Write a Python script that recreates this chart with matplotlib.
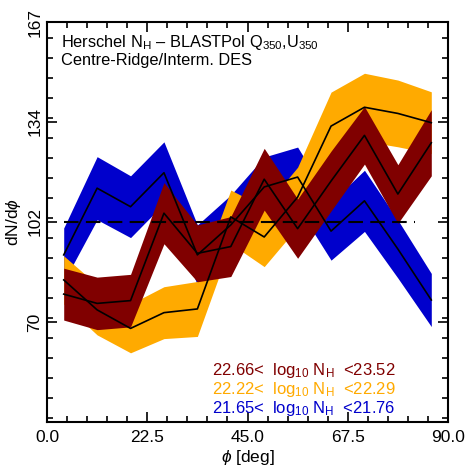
import matplotlib
matplotlib.use("Agg")
import matplotlib.pyplot as plt
import numpy as np
from matplotlib.ticker import FixedLocator, MultipleLocator

plt.rcParams['font.family'] = ['Liberation Sans', 'DejaVu Sans']
plt.rcParams['mathtext.fontset'] = 'custom'
plt.rcParams['mathtext.rm'] = 'Liberation Sans'
plt.rcParams['mathtext.it'] = 'Liberation Sans:italic'
plt.rcParams['mathtext.bf'] = 'Liberation Sans:bold'

# ---- data ----
phi = [3.75, 11.25, 18.75, 26.25, 33.75, 41.25, 48.75, 56.25, 63.75, 71.25, 78.75, 86.25]

blue_mid = [91.6, 113.2, 107.2, 118.2, 91.6, 101.3, 113.6, 116.8, 99.3, 109.1, 93.5, 77.0]
blue_err = [8.7, 10.2, 10.0, 10.0, 9.7, 9.7, 9.7, 9.7, 9.4, 9.9, 9.4, 8.6]

orange_mid = [83.5, 73.8, 67.8, 72.9, 74.1, 103.9, 97.4, 110.3, 133.3, 139.4, 137.4, 134.4]
orange_err = [7.8, 8.1, 7.9, 8.4, 8.9, 8.7, 9.6, 9.7, 11.0, 11.0, 10.8, 10.0]

maroon_mid = [78.9, 75.9, 76.8, 105.1, 92.1, 94.3, 116.1, 100.1, 115.5, 130.3, 111.3, 127.9]
maroon_err = [8.4, 8.5, 8.5, 9.9, 9.2, 9.7, 10.0, 9.6, 9.7, 9.3, 9.5, 10.7]

mean_level = 102.25
mean_x = [3.75, 82.5]

ytick_vals = [69.875, 102.25, 134.625, 167.0]
ytick_labels = ['70', '102', '134', '167']
xtick_vals = [0.0, 22.5, 45.0, 67.5, 90.0]
xtick_labels = ['0.0', '22.5', '45.0', '67.5', '90.0']

legend_texts = [r'22.66<  log$_{10}$ N$_{\mathregular{H}}$  <23.52',
                r'22.22<  log$_{10}$ N$_{\mathregular{H}}$  <22.29',
                r'21.65<  log$_{10}$ N$_{\mathregular{H}}$  <21.76']

c_maroon = '#800000'
c_orange = '#FFAA00'
c_blue = '#0000CC'

fig = plt.figure(figsize=(4.71, 4.71), dpi=100)
ax = fig.add_axes([47/471, 49/471, 401/471, 400/471])

x = np.array(phi)
for mid, err, col in [(blue_mid, blue_err, c_blue),
                      (orange_mid, orange_err, c_orange),
                      (maroon_mid, maroon_err, c_maroon)]:
    m = np.array(mid); e = np.array(err)
    ax.fill_between(x, m - e, m + e, color=col, lw=0)
    ax.plot(x, m, color='black', lw=1.2)

ax.plot(mean_x, [mean_level, mean_level], color='black', lw=1.5,
        dashes=(7, 3.5))

ax.set_xlim(0, 90)
ax.set_ylim(37.5, 167)

ax.xaxis.set_major_locator(FixedLocator(xtick_vals))
ax.set_xticklabels(xtick_labels)
ax.xaxis.set_minor_locator(MultipleLocator(4.5))
ax.yaxis.set_major_locator(FixedLocator([37.5] + ytick_vals))
ax.set_yticklabels([''] + ytick_labels)
ax.yaxis.set_minor_locator(MultipleLocator(32.375 / 5))

ax.tick_params(which='both', direction='in', top=True, right=True, width=1.2)
ax.tick_params(which='major', length=7, labelsize=12.5)
ax.tick_params(which='minor', length=4)
ax.tick_params(axis='x', pad=6)
for lab in ax.get_yticklabels():
    lab.set_rotation(90)
    lab.set_va('center')
for s in ax.spines.values():
    s.set_linewidth(1.5)

ax.set_xlabel(r'$\phi$ [deg]', fontsize=12.5, labelpad=2)
ax.set_ylabel(r'dN/d$\phi$', fontsize=12.5, labelpad=3)

ax.text(0.035, 0.95, r'Herschel N$_{\mathregular{H}}$ – BLASTPol Q$_{\mathregular{350}}$,U$_{\mathregular{350}}$',
        transform=ax.transAxes, fontsize=11.8, va='center', ha='left')
ax.text(0.035, 0.903, 'Centre-Ridge/Interm. DES',
        transform=ax.transAxes, fontsize=11.8, va='center', ha='left')

for i, (t, col) in enumerate(zip(legend_texts, [c_maroon, c_orange, c_blue])):
    ax.text(0.412, 0.128 - i * 0.047, t, color=col, transform=ax.transAxes,
            fontsize=12, va='center', ha='left')

fig.savefig('out.png', dpi=100)
